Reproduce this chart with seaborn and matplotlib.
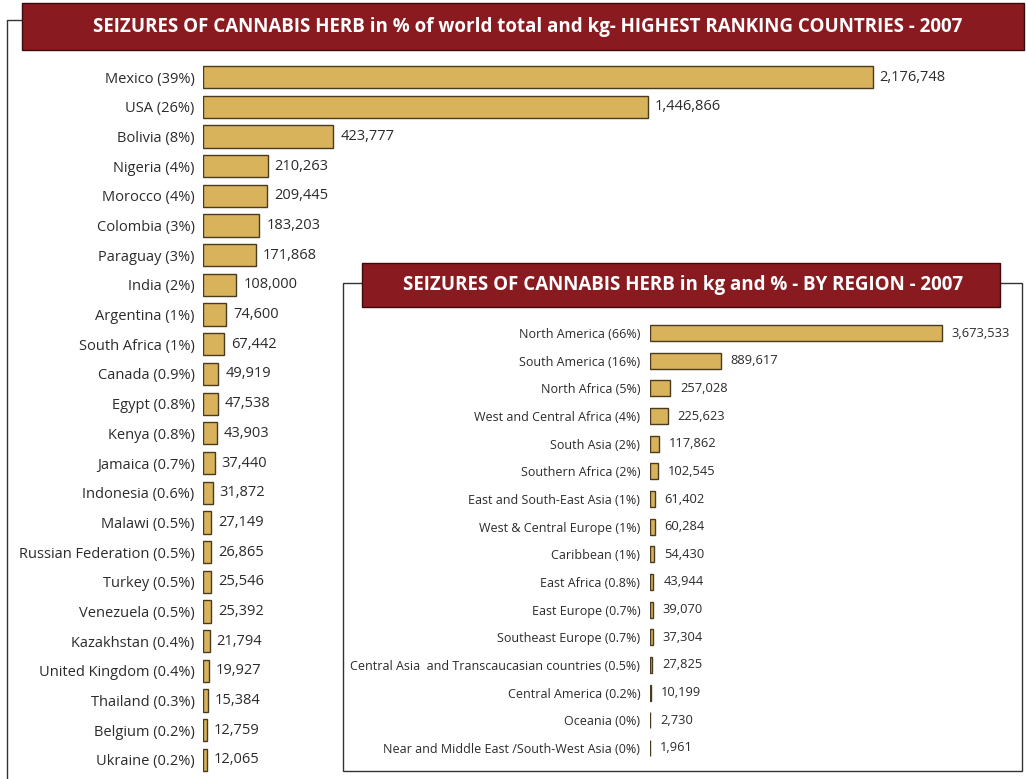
import matplotlib
matplotlib.use('Agg')
import matplotlib.pyplot as plt
import seaborn as sns
import pandas as pd
from matplotlib.patches import Rectangle
from matplotlib.lines import Line2D

# countries, highest ranking
countries = ['Mexico (39%)', 'USA (26%)', 'Bolivia (8%)', 'Nigeria (4%)', 'Morocco (4%)',
             'Colombia (3%)', 'Paraguay (3%)', 'India (2%)', 'Argentina (1%)',
             'South Africa (1%)', 'Canada (0.9%)', 'Egypt (0.8%)', 'Kenya (0.8%)',
             'Jamaica (0.7%)', 'Indonesia (0.6%)', 'Malawi (0.5%)',
             'Russian Federation (0.5%)', 'Turkey (0.5%)', 'Venezuela (0.5%)',
             'Kazakhstan (0.4%)', 'United Kingdom (0.4%)', 'Thailand (0.3%)',
             'Belgium (0.2%)', 'Ukraine (0.2%)']
country_kg = [2176748, 1446866, 423777, 210263, 209445, 183203, 171868, 108000, 74600,
              67442, 49919, 47538, 43903, 37440, 31872, 27149, 26865, 25546, 25392,
              21794, 19927, 15384, 12759, 12065]

# regions
regions = ['North America (66%)', 'South America (16%)', 'North Africa (5%)',
           'West and Central Africa (4%)', 'South Asia (2%)', 'Southern Africa (2%)',
           'East and South-East Asia (1%)', 'West & Central Europe (1%)', 'Caribbean (1%)',
           'East Africa (0.8%)', 'East Europe (0.7%)', 'Southeast Europe (0.7%)',
           'Central Asia  and Transcaucasian countries (0.5%)', 'Central America (0.2%)',
           'Oceania (0%)', 'Near and Middle East /South-West Asia (0%)']
region_kg = [3673533, 889617, 257028, 225623, 117862, 102545, 61402, 60284, 54430,
             43944, 39070, 37304, 27825, 10199, 2730, 1961]

title_main = 'SEIZURES OF CANNABIS HERB in % of world total and kg- HIGHEST RANKING COUNTRIES - 2007'
title_inset = 'SEIZURES OF CANNABIS HERB in kg and % - BY REGION - 2007'

gold = '#D9B25C'
edge = '#4a3a1e'
banner = '#891B20'
txt = '#2b2b2b'

sns.set_theme(style='white')
plt.rcParams['font.family'] = ['Open Sans', 'DejaVu Sans']

W, H = 1026, 779
fig = plt.figure(figsize=(W / 100, H / 100), dpi=100)


def box(x0, y0, x1, y1):
    # pixel box (top-left origin) -> figure fraction rect
    return [x0 / W, 1 - y1 / H, (x1 - x0) / W, (y1 - y0) / H]


# outer frame line on the left
fig.add_artist(Line2D([7 / W, 7 / W, 30 / W], [0, 1 - 20 / H, 1 - 20 / H],
                      color='#333333', lw=1, zorder=1))

# main chart
ax = fig.add_axes(box(203, 62.2, 1003, 774.8))
df1 = pd.DataFrame({'label': countries, 'kg': country_kg})
sns.barplot(data=df1, x='kg', y='label', color=gold, saturation=1, width=0.75,
            edgecolor=edge, linewidth=1, ax=ax)
ax.set_xlim(0, 2.6e6)
ax.set_ylim(len(countries) - 0.5, -0.5)
ax.bar_label(ax.containers[0], labels=[f'{v:,}' for v in country_kg], padding=5,
             fontsize=10.5, color=txt)
ax.set_xlabel('')
ax.set_ylabel('')
ax.set_xticks([])
ax.tick_params(axis='y', length=0, pad=6, labelsize=10.5, labelcolor=txt)
for s in ax.spines.values():
    s.set_visible(False)
ax.patch.set_alpha(0)

# white panel behind the inset
fig.add_artist(Rectangle((343 / W, 1 - 771 / H), (1022 - 343) / W, (771 - 283) / H,
                         transform=fig.transFigure, facecolor='white',
                         edgecolor='#333333', lw=1, zorder=2))

ax2 = fig.add_axes(box(650, 319.2, 968, 761.8))
ax2.set_zorder(3)
df2 = pd.DataFrame({'label': regions, 'kg': region_kg})
sns.barplot(data=df2, x='kg', y='label', color=gold, saturation=1, width=0.58,
            edgecolor=edge, linewidth=1, ax=ax2)
ax2.set_xlim(0, 4.0e6)
ax2.set_ylim(len(regions) - 0.5, -0.5)
ax2.bar_label(ax2.containers[0], labels=[f'{v:,}' for v in region_kg], padding=7,
              fontsize=9.3, color=txt)
ax2.set_xlabel('')
ax2.set_ylabel('')
ax2.set_xticks([])
ax2.tick_params(axis='y', length=0, pad=7, labelsize=9, labelcolor=txt)
for s in ax2.spines.values():
    s.set_visible(False)
ax2.patch.set_alpha(0)

# title banners
fig.add_artist(Rectangle((22 / W, 1 - 50 / H), (1024 - 22) / W, 47 / H,
                         transform=fig.transFigure, facecolor=banner,
                         edgecolor='#3a0a0c', lw=1, zorder=4))
fig.text(528 / W, 1 - 27 / H, title_main, ha='center', va='center', color='white',
         fontsize=13.5, fontweight='bold', zorder=5)

fig.add_artist(Rectangle((362 / W, 1 - 307 / H), (1000 - 362) / W, 44 / H,
                         transform=fig.transFigure, facecolor=banner,
                         edgecolor='#3a0a0c', lw=1, zorder=4))
fig.text(683 / W, 1 - 285 / H, title_inset, ha='center', va='center', color='white',
         fontsize=13.5, fontweight='bold', zorder=5)

fig.savefig('out.png', dpi=100)
